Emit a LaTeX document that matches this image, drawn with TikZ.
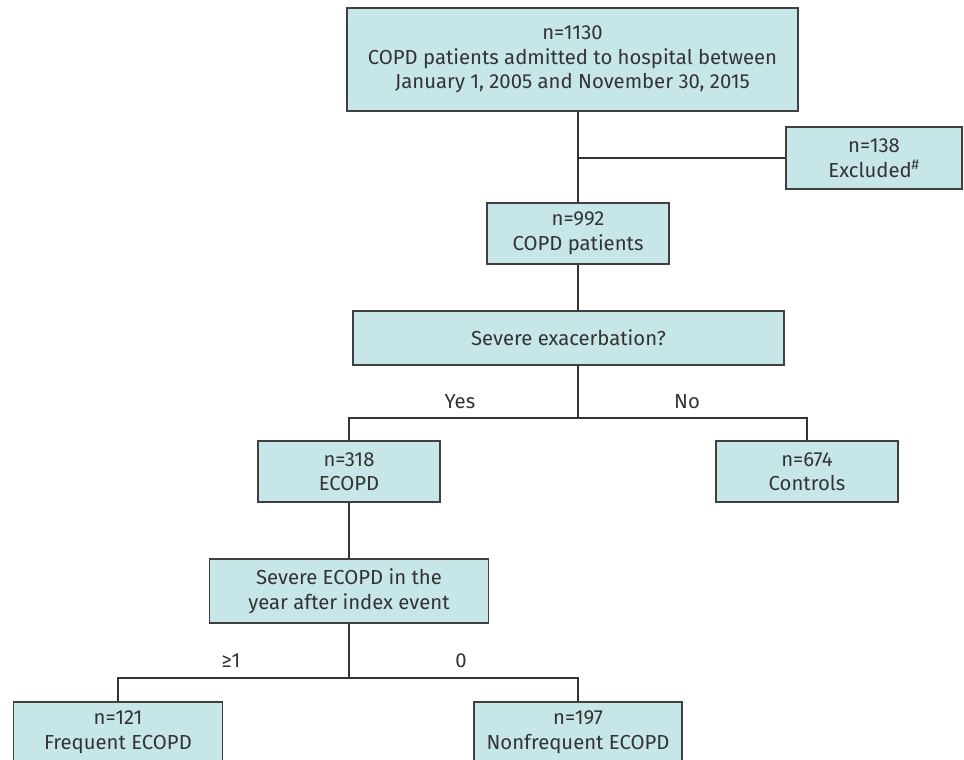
\documentclass[tikz,border=0pt]{standalone}
\usepackage{fontspec}
\setmainfont{Fira Sans}
\definecolor{boxfill}{HTML}{C7E6E8}
\definecolor{boxline}{HTML}{404040}
\definecolor{linecol}{HTML}{333333}
\definecolor{txt}{HTML}{333333}
\begin{document}
\begin{tikzpicture}[x=1pt,y=-1pt,
  box/.style={draw=boxline, fill=boxfill, line width=1.3pt, align=center,
    inner sep=0pt, text=txt, font=\fontsize{20.3}{24.5}\selectfont},
  conn/.style={draw=linecol, line width=1.2pt},
  lbl/.style={text=txt, inner sep=0pt, font=\fontsize{20.3}{24.5}\selectfont}]
\clip (0,0) rectangle (964,760);
\fill[white] (0,0) rectangle (964,760);
\node[box, minimum width=451pt, minimum height=103pt] (top) at (572.5,59.5)
  {n=1130\\COPD patients admitted to hospital between\\January 1, 2005 and November 30, 2015};
\node[box, minimum width=176pt, minimum height=62pt] (excl) at (874,158)
  {n=138\\Excluded\textsuperscript{\#}};
\node[box, minimum width=182pt, minimum height=61pt] (n992) at (578,233.5)
  {n=992\\COPD patients};
\node[box, minimum width=431pt, minimum height=54pt] (severe) at (568.5,338)
  {Severe exacerbation?};
\node[box, minimum width=182pt, minimum height=61pt] (ecopd) at (349,471.5)
  {n=318\\ECOPD};
\node[box, minimum width=182pt, minimum height=61pt] (controls) at (807,471.5)
  {n=674\\Controls};
\node[box, minimum width=279pt, minimum height=64pt] (sevecopd) at (349,591)
  {Severe ECOPD in the\\year after index event};
\node[box, minimum width=209pt, minimum height=61pt] (freq) at (118,732.5)
  {n=121\\Frequent ECOPD};
\node[box, minimum width=208pt, minimum height=61pt] (nonfreq) at (578,732.5)
  {n=197\\Nonfrequent ECOPD};
\coordinate (yn) at (578,418);
\coordinate (br) at (349,678);
\draw[conn] (top.south -| n992.north) -- (n992.north);
\draw[conn] (n992.north |- excl.west) -- (excl.west);
\draw[conn] (n992.south) -- (n992.south |- severe.north);
\draw[conn] (n992.south |- severe.south) -- (yn);
\draw[conn] (ecopd.north) |- (yn) -| (controls.north);
\draw[conn] (ecopd.south) -- (sevecopd.north);
\draw[conn] (sevecopd.south) -- (br);
\draw[conn] (freq.north) |- (br) -| (nonfreq.north);
\node[lbl] (yes) at (460,402) {Yes};
\node[lbl] (no) at (687,402) {No};
\node[lbl] (ge1) at (231,661) {≥1};
\node[lbl] (zero) at (461,661) {0};
\end{tikzpicture}
\end{document}
